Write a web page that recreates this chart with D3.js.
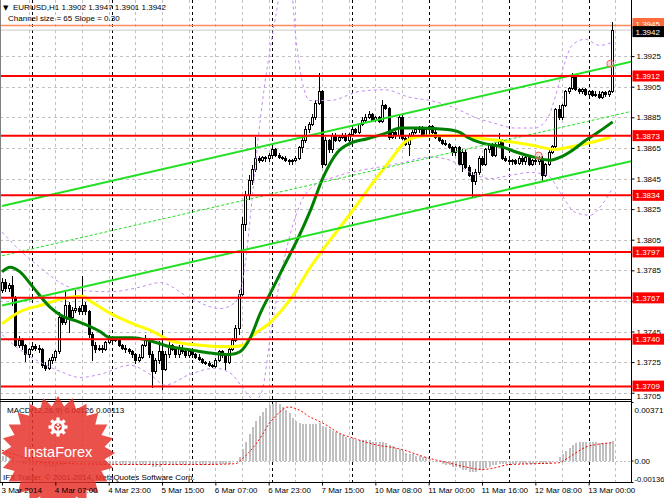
<!DOCTYPE html>
<html><head><meta charset="utf-8">
<script src="https://cdn.jsdelivr.net/npm/d3@7"></script>
<style>
html,body{margin:0;padding:0;background:#fff;}
svg{display:block;font-family:"Liberation Sans",Arial,sans-serif;}
</style></head><body>
<svg id="c" width="664" height="498"></svg>
<script>
// ---------- DATA ----------
const symbolName = "EURUSD,H1";
const channelText = "Channel size = 65 Slope = 0.30";
const macdName = "MACD(12,26,9)";
const copyrightText = "IFX Trader, \u00A9 2001-2014, MetaQuotes Software Corp.";
const timeLabels = ["3 Mar 2014","4 Mar 07:00","4 Mar 23:00","5 Mar 15:00","6 Mar 07:00","6 Mar 23:00","7 Mar 15:00","10 Mar 08:00","11 Mar 00:00","11 Mar 16:00","12 Mar 08:00","13 Mar 00:00"];
const labelBars = [0,16,32,48,64,80,96,112,128,144,160,176];
const daySeparators = [9,33,57,81,105,128,152,176];
const priceTicks = [1.3705,1.3725,1.3745,1.3765,1.3785,1.3805,1.3825,1.3845,1.3865,1.3885,1.3905,1.3925];
const levels = [1.3912,1.3873,1.3834,1.3797,1.3767,1.3740,1.3709];
const askPrice = 1.3945;
const macdTicks = [0.00371,0,-0.00136];
const macdTickLabels = ["0.00371","0.00","-0.00136"];

const open = [1.3772,1.3777,1.3773,1.3775,1.3767,1.3736,1.3739,1.3736,1.3730,1.3733,1.3735,1.3734,1.3733,1.3723,1.3721,1.3726,1.3728,1.3732,1.3754,1.3751,
1.3762,1.3754,1.3759,1.3760,1.3758,1.3762,1.3758,1.3743,1.3736,1.3733,1.3734,1.3733,1.3738,1.3741,1.3739,1.3740,1.3736,1.3734,1.3733,1.3732,
1.3730,1.3726,1.3728,1.3736,1.3739,1.3730,1.3719,1.3726,1.3732,1.3720,1.3730,1.3736,1.3733,1.3730,1.3734,1.3732,1.3729,1.3732,1.3730,1.3728,
1.3727,1.3725,1.3724,1.3723,1.3722,1.3726,1.3732,1.3729,1.3725,1.3733,1.3739,1.3747,1.3769,1.3815,1.3834,1.3844,1.3851,1.3858,1.3857,1.3859,
1.3858,1.3860,1.3864,1.3860,1.3859,1.3858,1.3857,1.3856,1.3857,1.3858,1.3865,1.3870,1.3877,1.3880,1.3885,1.3894,1.3902,1.3854,1.3870,1.3864,
1.3873,1.3870,1.3872,1.3873,1.3870,1.3874,1.3877,1.3875,1.3880,1.3883,1.3885,1.3887,1.3883,1.3885,1.3882,1.3893,1.3891,1.3872,1.3875,1.3873,
1.3885,1.3871,1.3867,1.3873,1.3875,1.3877,1.3878,1.3873,1.3877,1.3879,1.3875,1.3872,1.3870,1.3868,1.3867,1.3865,1.3862,1.3865,1.3854,1.3862,
1.3852,1.3847,1.3843,1.3849,1.3858,1.3854,1.3864,1.3867,1.3860,1.3867,1.3870,1.3858,1.3857,1.3856,1.3857,1.3855,1.3858,1.3856,1.3859,1.3854,
1.3857,1.3856,1.3858,1.3847,1.3854,1.3862,1.3866,1.3890,1.3885,1.3893,1.3902,1.3904,1.3911,1.3903,1.3902,1.3903,1.3900,1.3902,1.3899,1.3900,
1.3898,1.3901,1.3900,1.3902];
const high = [1.3780,1.3779,1.3777,1.3781,1.3768,1.3742,1.3741,1.3737,1.3734,1.3737,1.3737,1.3736,1.3734,1.3725,1.3728,1.3730,1.3733,1.3758,1.3756,1.3772,
1.3764,1.3761,1.3772,1.3762,1.3781,1.3764,1.3759,1.3745,1.3738,1.3736,1.3736,1.3739,1.3743,1.3742,1.3741,1.3741,1.3737,1.3736,1.3734,1.3733,
1.3731,1.3730,1.3737,1.3743,1.3741,1.3732,1.3728,1.3739,1.3746,1.3732,1.3738,1.3737,1.3734,1.3736,1.3736,1.3733,1.3733,1.3733,1.3731,1.3730,
1.3728,1.3726,1.3726,1.3724,1.3728,1.3733,1.3733,1.3730,1.3734,1.3741,1.3749,1.3772,1.3820,1.3837,1.3847,1.3854,1.3872,1.3860,1.3860,1.3860,
1.3862,1.3866,1.3865,1.3862,1.3860,1.3860,1.3858,1.3858,1.3860,1.3866,1.3872,1.3879,1.3882,1.3887,1.3896,1.3914,1.3903,1.3872,1.3871,1.3875,
1.3875,1.3873,1.3875,1.3875,1.3875,1.3878,1.3878,1.3881,1.3885,1.3887,1.3889,1.3888,1.3886,1.3886,1.3896,1.3894,1.3892,1.3876,1.3876,1.3887,
1.3887,1.3873,1.3875,1.3877,1.3878,1.3879,1.3879,1.3878,1.3880,1.3880,1.3877,1.3873,1.3871,1.3870,1.3868,1.3866,1.3866,1.3866,1.3864,1.3864,
1.3854,1.3849,1.3851,1.3860,1.3860,1.3865,1.3868,1.3868,1.3868,1.3875,1.3871,1.3860,1.3858,1.3858,1.3858,1.3860,1.3860,1.3860,1.3860,1.3858,
1.3858,1.3860,1.3860,1.3855,1.3864,1.3867,1.3891,1.3893,1.3894,1.3903,1.3905,1.3914,1.3913,1.3904,1.3904,1.3904,1.3903,1.3903,1.3902,1.3902,
1.3902,1.3902,1.3903,1.3947];
const low = [1.3770,1.3771,1.3771,1.3762,1.3735,1.3734,1.3733,1.3725,1.3728,1.3732,1.3732,1.3731,1.3721,1.3719,1.3720,1.3724,1.3726,1.3730,1.3749,1.3749,
1.3744,1.3753,1.3757,1.3756,1.3756,1.3756,1.3741,1.3726,1.3731,1.3732,1.3731,1.3732,1.3737,1.3737,1.3738,1.3735,1.3733,1.3731,1.3730,1.3728,
1.3724,1.3725,1.3727,1.3735,1.3728,1.3708,1.3717,1.3724,1.3707,1.3719,1.3728,1.3732,1.3728,1.3728,1.3730,1.3728,1.3728,1.3728,1.3727,1.3726,
1.3724,1.3723,1.3722,1.3721,1.3721,1.3725,1.3728,1.3720,1.3724,1.3732,1.3738,1.3743,1.3768,1.3811,1.3831,1.3841,1.3849,1.3855,1.3856,1.3856,
1.3856,1.3859,1.3859,1.3858,1.3857,1.3856,1.3854,1.3854,1.3856,1.3857,1.3862,1.3868,1.3875,1.3879,1.3883,1.3893,1.3852,1.3853,1.3862,1.3862,
1.3869,1.3869,1.3871,1.3869,1.3869,1.3873,1.3874,1.3874,1.3879,1.3882,1.3884,1.3882,1.3882,1.3881,1.3881,1.3890,1.3870,1.3871,1.3871,1.3871,
1.3870,1.3866,1.3860,1.3872,1.3874,1.3875,1.3872,1.3872,1.3875,1.3874,1.3871,1.3869,1.3867,1.3866,1.3864,1.3860,1.3860,1.3853,1.3849,1.3851,
1.3846,1.3833,1.3841,1.3847,1.3853,1.3853,1.3862,1.3859,1.3859,1.3866,1.3857,1.3856,1.3854,1.3854,1.3854,1.3854,1.3854,1.3854,1.3853,1.3853,
1.3854,1.3854,1.3843,1.3846,1.3853,1.3861,1.3864,1.3883,1.3883,1.3892,1.3900,1.3903,1.3902,1.3900,1.3900,1.3899,1.3899,1.3898,1.3898,1.3897,
1.3897,1.3898,1.3898,1.3901];
const close = [1.3777,1.3773,1.3775,1.3767,1.3736,1.3739,1.3736,1.3730,1.3733,1.3735,1.3734,1.3733,1.3723,1.3721,1.3726,1.3728,1.3732,1.3754,1.3751,1.3762,
1.3754,1.3759,1.3760,1.3758,1.3762,1.3758,1.3743,1.3736,1.3733,1.3734,1.3733,1.3738,1.3741,1.3739,1.3740,1.3736,1.3734,1.3733,1.3732,1.3730,
1.3726,1.3728,1.3736,1.3739,1.3730,1.3719,1.3726,1.3732,1.3720,1.3730,1.3736,1.3733,1.3730,1.3734,1.3732,1.3729,1.3732,1.3730,1.3728,1.3727,
1.3725,1.3724,1.3723,1.3722,1.3726,1.3732,1.3729,1.3725,1.3733,1.3739,1.3747,1.3769,1.3815,1.3834,1.3844,1.3851,1.3858,1.3857,1.3859,1.3858,
1.3860,1.3864,1.3860,1.3859,1.3858,1.3857,1.3856,1.3857,1.3858,1.3865,1.3870,1.3877,1.3880,1.3885,1.3894,1.3902,1.3854,1.3870,1.3864,1.3873,
1.3870,1.3872,1.3873,1.3870,1.3874,1.3877,1.3875,1.3880,1.3883,1.3885,1.3887,1.3883,1.3885,1.3882,1.3893,1.3891,1.3872,1.3875,1.3873,1.3885,
1.3871,1.3867,1.3873,1.3875,1.3877,1.3878,1.3873,1.3877,1.3879,1.3875,1.3872,1.3870,1.3868,1.3867,1.3865,1.3862,1.3865,1.3854,1.3862,1.3852,
1.3847,1.3843,1.3849,1.3858,1.3854,1.3864,1.3867,1.3860,1.3867,1.3870,1.3858,1.3857,1.3856,1.3857,1.3855,1.3858,1.3856,1.3859,1.3854,1.3857,
1.3856,1.3858,1.3847,1.3854,1.3862,1.3866,1.3890,1.3885,1.3893,1.3902,1.3904,1.3911,1.3903,1.3902,1.3903,1.3900,1.3902,1.3899,1.3900,1.3898,
1.3901,1.3900,1.3902,1.3942];

const macdHist = [0.0003,0.0003,0.0003,0.0002,0,-0.0001,-0.0002,-0.0002,-0.0003,-0.0003,-0.0003,
-0.0003,-0.0003,-0.0004,-0.0004,-0.0004,-0.0004,
-0.0003,-0.0003,-0.0002,-0.0002,-0.0002,-0.0001,-0.0001,-0.0001,-0.0001,
-0.0002,-0.0002,-0.0002,-0.0003,-0.0003,-0.0003,-0.0003,-0.0003,-0.0003,-0.0003,-0.0003,-0.0003,-0.0003,-0.0003,-0.0003,
-0.0003,-0.0003,-0.0003,-0.0003,-0.0004,-0.0004,-0.0004,-0.0003,-0.0003,-0.0003,
-0.0003,-0.0003,-0.0003,-0.0003,-0.0003,-0.0003,-0.0003,-0.0003,-0.0003,-0.0003,-0.0003,-0.0003,-0.0003,-0.0003,-0.0002,-0.0002,-0.0002,-0.0002,
-0.0001,0,
0.0002,0.0007,0.0012,0.0017,0.0021,0.0025,0.0028,0.0031,0.0033,0.0035,0.0036,0.0037,0.0036,0.0034,0.0032,0.0030,0.0027,0.0025,0.0024,0.0023,0.0023,0.0023,0.0023,0.0023,0.0024,0.0022,0.0021,0.0020,
0.0019,0.0018,0.0017,0.0016,0.0015,0.0014,0.0014,0.0013,0.0013,0.0013,0.0013,0.0013,0.0012,0.0012,0.0012,0.0012,0.0011,0.0010,0.0009,0.0008,0.0007,0.0006,0.0005,0.0004,0.0004,0.0003,0.0003,0.0002,0.0002,0.0001,
0,-0.0001,-0.0001,-0.0002,-0.0003,-0.0003,-0.0004,-0.0004,-0.0005,-0.0006,-0.0006,-0.0007,-0.0007,-0.0007,-0.0006,-0.0006,-0.0005,-0.0004,-0.0003,-0.0003,-0.0002,-0.0002,-0.0002,-0.0002,
-0.0002,-0.0002,-0.0002,-0.0002,-0.0002,-0.0002,-0.0002,-0.0002,-0.0002,-0.0002,-0.0002,-0.0002,-0.0001,
0,0.0002,0.0004,0.0006,0.0008,0.0010,0.0011,0.0012,0.0012,0.0012,0.0012,0.0012,0.0012,0.0011,0.0011,0.0011,0.0011,0.00126];
const signalBars = [0,5,10,15,20,40,60,70,72,74,76,78,80,82,84,86,88,90,92,94,96,98,101,105,111,119,128,134,139,144,148,152,160,167,170,173,175,178,183];
const signalVals = [0.00065,0.0003,-0.00005,-0.00015,-0.0002,-0.00025,-0.00025,-0.0002,0.0001,0.0005,0.001,0.0016,0.0023,0.0028,0.0032,0.0034,0.0033,0.0031,0.0028,0.0026,0.0024,0.00215,0.00175,0.00145,0.00105,0.00075,0.00015,-0.00015,-0.0004,-0.00057,-0.00045,-0.00026,-0.0002,-0.00014,0.0002,0.0006,0.00084,0.001,0.00113];

const maGreenBars = [0,2.4,5.4,9.3,14.4,17.4,23.4,29.4,32.4,39,44.4,50.5,56.5,62.5,68.5,71.5,74.5,77.5,80.5,84.4,88.6,92.5,96.4,100.6,104.5,109.6,115.6,119.5,125.5,133.6,137.5,139.6,144.4,149.5,154.7,159.5,164.5,167.5,171.5,174.5,178.7,183.2];
const maGreenVals = [1.3784,1.3787,1.3784,1.3774,1.3761,1.3756,1.3751,1.3745,1.3741,1.3741,1.3739,1.3735,1.3733,1.3731,1.3730,1.3732,1.3741,1.3757,1.3770,1.3787,1.3805,1.3824,1.3846,1.3862,1.3868,1.3871,1.3875,1.3878,1.3878,1.3877,1.3875,1.3872,1.3868,1.3866,1.3862,1.3859,1.3857,1.3859,1.3864,1.3869,1.3875,1.3882];
const maYellowBars = [0,5.4,11.4,19.5,24,26.4,32.4,39.3,45.3,50.5,59.5,68.5,72.4,74.5,80.5,86.5,92.5,98.5,104.5,110.5,116.5,121,124,128.5,137.5,144.4,152.5,160.7,165.5,169,175.7,182.5];
const maYellowVals = [1.3750,1.3758,1.3762,1.3767,1.3768,1.3765,1.3757,1.3750,1.3745,1.3739,1.3736,1.3735,1.3736,1.3741,1.3751,1.3766,1.3787,1.3805,1.3822,1.3840,1.3857,1.3869,1.3872,1.3873,1.3873,1.3871,1.3869,1.3866,1.3864,1.3865,1.3868,1.3872];
const bandUpBars = [0,5.4,11.4,17.4,23.4,32.4,41.4,47.4,56.4,65.4,69.9,72.9,75,76.8,78.6,80.4,82.2,84.3,86.4,88.2,90,92.4,98.4,107.4,114.9,122.4,128.4,135.9,141.9,147.9,153.9,159.9,163.8,166.2,168.6,171,174.9,179.4,183];
const bandUpVals = [1.3810,1.3798,1.3787,1.3777,1.3772,1.3771,1.3774,1.3777,1.3767,1.3760,1.3764,1.3788,1.3831,1.3870,1.3903,1.3929,1.3952,1.3975,1.3975,1.3936,1.3909,1.3896,1.3896,1.3902,1.3903,1.3898,1.3896,1.3891,1.3885,1.3881,1.3878,1.3878,1.3885,1.3900,1.3919,1.3932,1.3936,1.3932,1.3934];
const bandLoBars = [0,5.4,11.4,17.4,23.4,29.4,38.4,44.4,48.9,56.4,63.9,69,72.9,75.9,78,80.4,83.4,86.4,89.4,93.9,98.4,104.4,111.9,119.4,128.4,134.4,140.4,146.4,152.4,158.4,163.8,167.4,171.9,176.4,180,183];
const bandLoVals = [1.3743,1.3733,1.3725,1.3719,1.3715,1.3717,1.3723,1.3717,1.3710,1.3717,1.3721,1.3717,1.3706,1.3700,1.3706,1.3740,1.3779,1.3808,1.3828,1.3841,1.3845,1.3849,1.3852,1.3855,1.3859,1.3857,1.3849,1.3845,1.3847,1.3849,1.3847,1.3836,1.3823,1.3821,1.3828,1.3838];
const channelBars = [0,190];
const channelUpper = [1.3827,1.3922];
const channelLower = [1.3762,1.3857];
const channelMid = [1.37945,1.38895];
const markerBars = [161,182.5];
const markerVals = [1.3860,1.3920];

// ---------- LAYOUT ----------
const svg = d3.select("#c");
const plotRight = 631.5;
const mainTop = 0, mainBottom = 398.5, macdTop = 401.5, macdBottom = 482.5;
const x = d3.scaleLinear().domain([0,183]).range([2,612]);
const y = d3.scaleLinear().domain([1.3709,1.3912]).range([386.6,76]);
const yM = d3.scaleLinear().domain([-0.00136,0.00371]).range([482,402]);
const f4 = d3.format(".4f");
const last = close.length-1;

svg.append("rect").attr("width",664).attr("height",498).attr("fill","#fff");
const defs = svg.append("defs");
defs.append("clipPath").attr("id","cm").append("rect").attr("x",0).attr("y",mainTop).attr("width",plotRight).attr("height",mainBottom-mainTop);
defs.append("clipPath").attr("id","cd").append("rect").attr("x",0).attr("y",macdTop).attr("width",plotRight).attr("height",macdBottom-macdTop);

// grid
const grid = svg.append("g").attr("shape-rendering","crispEdges");
priceTicks.forEach(p=>{
  grid.append("line").attr("x1",0).attr("x2",plotRight).attr("y1",Math.round(y(p))+0.5).attr("y2",Math.round(y(p))+0.5)
   .attr("stroke","#c0c0c0").attr("stroke-dasharray","3,3");
});
d3.range(8,190,8).forEach(b=>{
  const xx=Math.round(x(b))+0.5;
  [[mainTop,mainBottom],[macdTop,macdBottom]].forEach(r=>{
    grid.append("line").attr("x1",xx).attr("x2",xx).attr("y1",r[0]).attr("y2",r[1]).attr("stroke","#c0c0c0").attr("stroke-dasharray","3,3");
  });
});
daySeparators.forEach(b=>{
  const xx=Math.round(x(b))+0.5;
  [[mainTop,mainBottom],[macdTop,macdBottom]].forEach(r=>{
    grid.append("line").attr("x1",xx).attr("x2",xx).attr("y1",r[0]).attr("y2",r[1]).attr("stroke","#000").attr("stroke-dasharray","3,3");
  });
});

// main panel
const gm = svg.append("g").attr("clip-path","url(#cm)");
gm.append("line").attr("x1",0).attr("x2",plotRight).attr("y1",y(askPrice)).attr("y2",y(askPrice)).attr("stroke","#ff8a5c").attr("stroke-width",1.5);
gm.append("line").attr("x1",0).attr("x2",plotRight).attr("y1",y(close[last])).attr("y2",y(close[last])).attr("stroke","#c8c8c8").attr("stroke-width",1);

// candles
const gc = gm.append("g").attr("shape-rendering","crispEdges");
close.forEach((c,i)=>{
  const bx=Math.round(x(i));
  const o=open[i];
  gc.append("line").attr("x1",bx+0.5).attr("x2",bx+0.5).attr("y1",y(high[i])).attr("y2",y(low[i])).attr("stroke","#000");
  const top=Math.min(y(o),y(c)), bot=Math.max(y(o),y(c));
  const h=Math.max(bot-top,1);
  gc.append("rect").attr("x",bx-0.5).attr("y",top).attr("width",2).attr("height",h)
    .attr("fill", c>=o ? "#fff" : "#000").attr("stroke","#000").attr("stroke-width",1);
});

// bands
const lineP=(bars,vals)=>d3.line().x((d,i)=>x(bars[i])).y(d=>y(d)).curve(d3.curveMonotoneX)(vals);
gm.append("path").attr("d",lineP(bandUpBars,bandUpVals)).attr("fill","none").attr("stroke","#c58cf0").attr("stroke-dasharray","3,3").attr("stroke-width",1);
gm.append("path").attr("d",lineP(bandLoBars,bandLoVals)).attr("fill","none").attr("stroke","#c58cf0").attr("stroke-dasharray","3,3").attr("stroke-width",1);
// moving averages
gm.append("path").attr("d",lineP(maYellowBars,maYellowVals)).attr("fill","none").attr("stroke","#ffff00").attr("stroke-width",3);
gm.append("path").attr("d",lineP(maGreenBars,maGreenVals)).attr("fill","none").attr("stroke","#008000").attr("stroke-width",3);
// channel
const lineL=(vals)=>d3.line().x((d,i)=>x(channelBars[i])).y(d=>y(d))(vals);
gm.append("path").attr("d",lineL(channelUpper)).attr("stroke","#22e022").attr("stroke-width",2).attr("fill","none");
gm.append("path").attr("d",lineL(channelLower)).attr("stroke","#22e022").attr("stroke-width",2).attr("fill","none");
gm.append("path").attr("d",lineL(channelMid)).attr("stroke","#22e022").attr("stroke-width",1).attr("stroke-dasharray","3,2").attr("fill","none");
// levels
levels.forEach(p=>{
  gm.append("line").attr("x1",0).attr("x2",plotRight).attr("y1",y(p)).attr("y2",y(p)).attr("stroke","#ff0000").attr("stroke-width",2);
});
// markers
markerBars.forEach((b,i)=>{
  gm.append("circle").attr("cx",x(b)).attr("cy",y(markerVals[i])).attr("r",3.5).attr("fill","rgba(255,160,160,0.4)").attr("stroke","#f06060").attr("stroke-width",1);
});

// MACD panel
const gd = svg.append("g").attr("clip-path","url(#cd)");
gd.append("line").attr("x1",0).attr("x2",plotRight).attr("y1",Math.round(yM(0))+0.5).attr("y2",Math.round(yM(0))+0.5).attr("stroke","#c0c0c0").attr("stroke-dasharray","2,2");
const gh = gd.append("g").attr("shape-rendering","crispEdges");
macdHist.forEach((v,i)=>{
  const bx=Math.round(x(i));
  const y0=yM(0), y1=yM(v);
  gh.append("rect").attr("x",bx-0.5).attr("y",Math.min(y0,y1)).attr("width",2).attr("height",Math.max(Math.abs(y1-y0),0.5)).attr("fill","#c0c0c0");
});
gd.append("path").attr("d",d3.line().x((d,i)=>x(signalBars[i])).y(d=>yM(d)).curve(d3.curveMonotoneX)(signalVals))
  .attr("fill","none").attr("stroke","#ff0000").attr("stroke-width",1).attr("stroke-dasharray","2,2");

// frame lines
const fr = svg.append("g").attr("shape-rendering","crispEdges");
fr.append("line").attr("x1",0.5).attr("x2",0.5).attr("y1",0).attr("y2",macdBottom).attr("stroke","#808080");
fr.append("line").attr("x1",0).attr("x2",plotRight).attr("y1",mainBottom+0.5).attr("y2",mainBottom+0.5).attr("stroke","#000");
fr.append("line").attr("x1",0).attr("x2",plotRight).attr("y1",macdTop-0.5).attr("y2",macdTop-0.5).attr("stroke","#000");

// price axis
const ay = svg.append("g").attr("transform",`translate(${plotRight},0)`)
  .call(d3.axisRight(y).tickValues(priceTicks).tickFormat(f4).tickSize(3).tickPadding(2));
ay.select(".domain").remove();
ay.selectAll("text").attr("font-size",8).attr("font-family","Liberation Sans, Arial, sans-serif").attr("fill","#000");
ay.selectAll("line").attr("stroke","#000");
// labels fully hidden under a level box in the original are not drawn
ay.selectAll(".tick").filter(d=>levels.some(l=>Math.abs(l-d)<0.00035)).select("text").remove();
// label peeking out just below the lowest level box
ay.selectAll(".tick").filter(d=>d===priceTicks[0]).select("text").attr("dy","0.75em");
fr.append("line").attr("x1",plotRight).attr("x2",plotRight).attr("y1",0).attr("y2",macdBottom).attr("stroke","#000");

// price label boxes
function priceBox(p, bg, fg, dy){
  const g=svg.append("g").attr("transform",`translate(${plotRight+1},${y(p)+(dy||0)})`);
  g.append("rect").attr("x",0).attr("y",-5.5).attr("width",32).attr("height",11).attr("fill",bg);
  g.append("text").attr("x",3).attr("y",3).attr("font-size",8).attr("fill",fg).text(f4(p));
}
levels.forEach(p=>priceBox(p,"#ff0000","#fff",p===levels[levels.length-1]?-0.5:0));
priceBox(askPrice,"#ff6a3a","#fff",-2);
priceBox(close[last],"#000","#fff",1.5);

// MACD axis
const am = svg.append("g").attr("transform",`translate(${plotRight},0)`)
  .call(d3.axisRight(yM).tickValues(macdTicks).tickFormat((d,i)=>macdTickLabels[i]).tickSize(2).tickPadding(1));
am.select(".domain").remove();
am.selectAll("text").attr("font-size",8).attr("fill","#000").attr("font-family","Liberation Sans, Arial, sans-serif");
am.selectAll(".tick").filter(d=>d===macdTicks[0]).select("text").attr("dy","1.3em");
am.selectAll(".tick").filter(d=>d===macdTicks[2]).select("text").attr("dy","-0.05em").attr("font-size",7.6);

// texts
svg.append("text").attr("x",3).attr("y",10).attr("font-size",7).attr("font-family","DejaVu Sans").text("\u25BC");
svg.append("text").attr("x",13).attr("y",10).attr("font-size",8).attr("fill","#000")
  .text(`${symbolName}  ${f4(open[last])} ${f4(high[last])} ${f4(low[last])} ${f4(close[last])}`);
svg.append("text").attr("x",8).attr("y",21).attr("font-size",8).attr("fill","#000").text(channelText);
svg.append("text").attr("x",7).attr("y",413).attr("font-size",8).attr("fill","#000")
  .text(`${macdName} ${d3.format(".5f")(macdHist[last])} ${d3.format(".5f")(signalVals[signalVals.length-1])}`);
svg.append("text").attr("x",3).attr("y",480).attr("font-size",8).attr("fill","#000").text(copyrightText);

// InstaForex badge
const cx=58, cy=453, rO=57, rI=47, nP=24;
const starPts=d3.range(nP*2).map(k=>{const a=k*Math.PI/nP - Math.PI/2; const r=k%2?rI:rO; return [cx+r*Math.cos(a), cy+r*Math.sin(a)];});
const badge = svg.append("g");
badge.append("path").attr("d",d3.line()(starPts)+"Z").attr("fill","#e8322c").attr("opacity",0.85);
const logo = badge.append("g").attr("transform",`translate(${cx},427)`);
d3.range(8).forEach(k=>{
  logo.append("rect").attr("x",-1.6).attr("y",-9.5).attr("width",3.2).attr("height",4).attr("fill","#fff").attr("transform",`rotate(${k*45})`);
});
logo.append("circle").attr("r",7).attr("fill","#fff");
logo.append("circle").attr("r",3.8).attr("fill","#e8322c");
logo.append("path").attr("d","M-2.5,-1 L0,1.5 L2.5,-1 M0,1.5 L0,8").attr("stroke","#fff").attr("stroke-width",1.6).attr("fill","none");
logo.append("circle").attr("cy",-2.5).attr("r",1.2).attr("fill","#fff");
badge.append("text").attr("x",cx).attr("y",457).attr("text-anchor","middle").attr("font-size",14.5).attr("fill","#fff")
  .attr("font-family","Liberation Sans, Arial, sans-serif").text("InstaForex");

// time axis (drawn above the badge)
fr.append("line").attr("x1",0).attr("x2",plotRight).attr("y1",macdBottom).attr("y2",macdBottom).attr("stroke","#000");
const ax = svg.append("g").attr("transform",`translate(0,${macdBottom})`)
  .call(d3.axisBottom(x).tickValues(labelBars).tickFormat((d,i)=>timeLabels[i]).tickSize(3).tickPadding(2));
ax.select(".domain").remove();
ax.selectAll("line").attr("stroke","#000");
ax.selectAll("text").attr("font-size",8).attr("fill","#000").attr("text-anchor","start").attr("dx",-1).attr("font-family","Liberation Sans, Arial, sans-serif");
</script>
</body></html>
